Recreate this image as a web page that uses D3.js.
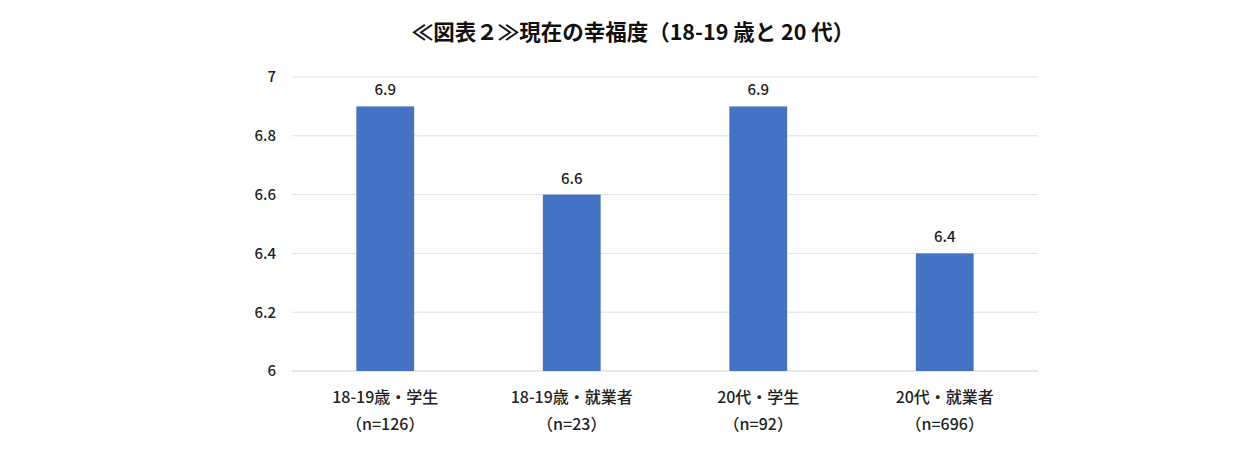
<!DOCTYPE html>
<html>
<head>
<meta charset="utf-8">
<script src="https://cdn.jsdelivr.net/npm/d3@7"></script>
<style>
  body { margin: 0; background: #fff; }
  text { font-family: "Noto Sans CJK JP", "Noto Sans", sans-serif; }
</style>
</head>
<body>
<svg id="chart" width="1254" height="472"></svg>
<script>
const categories = ["18-19歳・学生", "18-19歳・就業者", "20代・学生", "20代・就業者"];
const sampleSizes = ["（n=126）", "（n=23）", "（n=92）", "（n=696）"];
const values = [6.9, 6.6, 6.9, 6.4];
const yTicks = [6, 6.2, 6.4, 6.6, 6.8, 7];

let svg = d3.select("#chart");

let margin = { top: 77, left: 292, right: 1038, bottom: 371 };

let x = d3.scaleBand()
    .domain(categories)
    .range([margin.left, margin.right])
    .paddingInner(0.69)
    .paddingOuter(0.345);

let y = d3.scaleLinear()
    .domain([6, 7])
    .range([margin.bottom, margin.top]);

// title
svg.append("text")
    .attr("x", 633)
    .attr("y", 40)
    .attr("text-anchor", "middle")
    .style("font-size", "21.5px")
    .style("font-weight", "bold")
    .attr("fill", "#111")
    .text("≪図表２≫現在の幸福度（18-19 歳と 20 代）");

// gridlines
svg.append("g")
    .selectAll("line")
    .data(yTicks)
    .enter().append("line")
    .attr("x1", margin.left)
    .attr("x2", margin.right)
    .attr("y1", d => y(d))
    .attr("y2", d => y(d))
    .attr("stroke", d => d == 6 ? "#d0d0d0" : "#e0e0e0")
    .attr("stroke-width", 1);

// y axis labels
let yAxis = svg.append("g")
    .attr("transform", "translate(" + margin.left + ",0)")
    .call(d3.axisLeft(y).tickValues(yTicks).tickSize(0).tickPadding(16).tickFormat(d3.format("")));
yAxis.select(".domain").remove();
yAxis.selectAll("text")
    .style("font-size", "15px")
    .style("font-weight", "500")
    .style("font-family", "'Noto Sans CJK JP', sans-serif")
    .attr("fill", "#222");

// bars
svg.append("g")
    .selectAll("rect")
    .data(values)
    .enter().append("rect")
    .attr("x", (d, i) => x(categories[i]))
    .attr("y", d => y(d))
    .attr("width", x.bandwidth())
    .attr("height", d => y(6) - y(d))
    .attr("fill", "#4472c4");

// value labels
svg.append("g")
    .selectAll("text")
    .data(values)
    .enter().append("text")
    .attr("x", (d, i) => x(categories[i]) + x.bandwidth() / 2)
    .attr("y", d => y(d) - 11)
    .attr("text-anchor", "middle")
    .style("font-size", "15px")
    .style("font-weight", "500")
    .attr("fill", "#222")
    .text(d => d3.format(".1f")(d));

// category labels
let cat = svg.append("g")
    .selectAll("g")
    .data(categories)
    .enter().append("g");

cat.append("text")
    .attr("x", d => x(d) + x.bandwidth() / 2)
    .attr("y", 403)
    .attr("text-anchor", "middle")
    .style("font-size", "16px")
    .style("font-weight", "500")
    .attr("fill", "#222")
    .text(d => d);

cat.append("text")
    .attr("x", d => x(d) + x.bandwidth() / 2)
    .attr("y", 430)
    .attr("text-anchor", "middle")
    .style("font-size", "16px")
    .style("font-weight", "500")
    .attr("fill", "#222")
    .text((d, i) => sampleSizes[i]);
</script>
</body>
</html>
